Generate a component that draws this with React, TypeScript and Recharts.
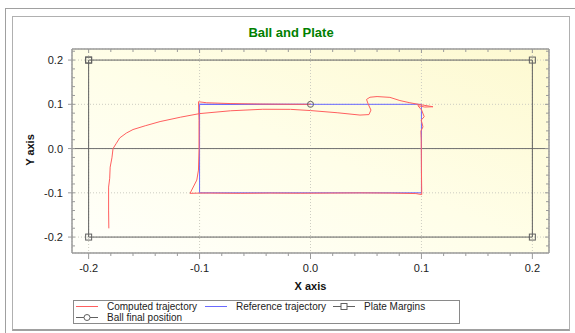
import { ScatterChart, Scatter, XAxis, YAxis, CartesianGrid, ReferenceLine } from 'recharts'

const FONT = '"Liberation Sans", Arial, sans-serif'
const AXIS = '#9a9a9a'
const RED = '#ff5f5f'
const BLUE = '#6a6aff'
const DARK = '#606060'

// x and y in metres
const computedTrajectory = [
  { x: -0.1818, y: -0.1803 }, { x: -0.182, y: -0.139 }, { x: -0.182, y: -0.087 },
  { x: -0.181, y: -0.067 }, { x: -0.1806, y: -0.042 }, { x: -0.179, y: -0.021 },
  { x: -0.178, y: 0.0 }, { x: -0.175, y: 0.012 }, { x: -0.172, y: 0.024 },
  { x: -0.166, y: 0.035 }, { x: -0.16, y: 0.043 }, { x: -0.149, y: 0.0515 },
  { x: -0.1356, y: 0.061 }, { x: -0.117, y: 0.071 }, { x: -0.1, y: 0.079 },
  { x: -0.072, y: 0.0854 }, { x: -0.043, y: 0.0888 }, { x: -0.018, y: 0.0886 },
  { x: 0.0, y: 0.0859 }, { x: 0.024, y: 0.081 }, { x: 0.0446, y: 0.0757 },
  { x: 0.0527, y: 0.0768 }, { x: 0.0545, y: 0.087 }, { x: 0.052, y: 0.1006 },
  { x: 0.0505, y: 0.111 }, { x: 0.0536, y: 0.116 }, { x: 0.06, y: 0.1175 },
  { x: 0.0716, y: 0.1157 }, { x: 0.0806, y: 0.1085 }, { x: 0.0896, y: 0.1035 },
  { x: 0.0986, y: 0.0994 }, { x: 0.1104, y: 0.0945 }, { x: 0.103, y: 0.0938 },
  { x: 0.0968, y: 0.097 }, { x: 0.1002, y: 0.087 }, { x: 0.1025, y: 0.0719 },
  { x: 0.0998, y: 0.0644 }, { x: 0.1014, y: 0.049 }, { x: 0.0995, y: 0.0395 },
  { x: 0.0998, y: 0.019 }, { x: 0.1, y: -0.0486 }, { x: 0.1003, y: -0.104 },
  { x: 0.095, y: -0.1017 }, { x: 0.072, y: -0.1006 }, { x: 0.045, y: -0.1002 },
  { x: 0.018, y: -0.1006 }, { x: -0.009, y: -0.101 }, { x: -0.036, y: -0.1006 },
  { x: -0.063, y: -0.1012 }, { x: -0.09, y: -0.1006 }, { x: -0.1, y: -0.1006 },
  { x: -0.1086, y: -0.1012 }, { x: -0.1025, y: -0.0712 }, { x: -0.101, y: -0.0486 },
  { x: -0.1005, y: -0.003 }, { x: -0.1005, y: 0.064 }, { x: -0.101, y: 0.1058 },
  { x: -0.0935, y: 0.1035 }, { x: -0.0725, y: 0.1017 }, { x: -0.0455, y: 0.1006 },
  { x: -0.0185, y: 0.1001 }, { x: 0.0, y: 0.1 },
]

const referenceTrajectory = [
  { x: -0.1, y: 0.1 }, { x: 0.1, y: 0.1 }, { x: 0.1, y: -0.1 },
  { x: -0.1, y: -0.1 }, { x: -0.1, y: 0.1 }, { x: 0.0, y: 0.1 },
]

const plateMargins = [
  { x: -0.2, y: 0.2 }, { x: 0.2, y: 0.2 }, { x: 0.2, y: -0.2 },
  { x: -0.2, y: -0.2 }, { x: -0.2, y: 0.2 },
]

const ballFinalPosition = [{ x: 0.0, y: 0.1 }]

const X_DOMAIN = [-0.215, 0.215]
const Y_DOMAIN = [-0.236, 0.225]
const X_TICKS = [-0.2, -0.18, -0.16, -0.14, -0.12, -0.1, -0.08, -0.06, -0.04, -0.02, 0, 0.02, 0.04, 0.06, 0.08, 0.1, 0.12, 0.14, 0.16, 0.18, 0.2]
const Y_TICKS = [-0.22, -0.2, -0.18, -0.16, -0.14, -0.12, -0.1, -0.08, -0.06, -0.04, -0.02, 0, 0.02, 0.04, 0.06, 0.08, 0.1, 0.12, 0.14, 0.16, 0.18, 0.2, 0.22]
const X_MAJOR = [-0.2, -0.1, 0, 0.1, 0.2]
const Y_MAJOR = [-0.2, -0.1, 0, 0.1, 0.2]

function isMajor(v: number) {
  return Math.abs(v * 10 - Math.round(v * 10)) < 1e-6
}

function fmt(v: number) {
  return (Math.abs(v) < 1e-9 ? 0 : v).toFixed(1)
}

function BottomTick({ x, y, payload }: any) {
  const major = isMajor(payload.value)
  return (
    <g>
      <line x1={x} y1={y} x2={x} y2={y + (major ? 6 : 3)} stroke={AXIS} />
      {major && (
        <text x={x} y={y + 19} textAnchor="middle" fontSize={11} fill="#222" fontFamily={FONT}>
          {fmt(payload.value)}
        </text>
      )}
    </g>
  )
}

function LeftTick({ x, y, payload }: any) {
  const major = isMajor(payload.value)
  return (
    <g>
      <line x1={major ? x - 4 : x} y1={y} x2={x + 3} y2={y} stroke={AXIS} />
      {major && (
        <text x={x - 9} y={y + 4} textAnchor="end" fontSize={11} fill="#222" fontFamily={FONT}>
          {fmt(payload.value)}
        </text>
      )}
    </g>
  )
}

function TopTick({ x, y, payload }: any) {
  const major = isMajor(payload.value)
  return <line x1={x} y1={y} x2={x} y2={y + (major ? 4 : 3)} stroke={AXIS} />
}

function RightTick({ x, y, payload }: any) {
  const major = isMajor(payload.value)
  return <line x1={x} y1={y} x2={x - (major ? 4 : 3)} y2={y} stroke={AXIS} />
}

const noDot = () => <g />

function squareDot({ cx, cy }: any) {
  return <rect x={cx - 3} y={cy - 3} width={6} height={6} fill="none" stroke={DARK} strokeWidth={1} />
}

function circleDot({ cx, cy }: any) {
  return <circle cx={cx} cy={cy} r={3} fill="none" stroke={DARK} strokeWidth={1} />
}

function LegendBox() {
  const item = (left: number, top: number, sym: any, label: string) => (
    <div style={{ position: 'absolute', left, top, display: 'flex', alignItems: 'center', height: 11 }}>
      <svg width={24} height={11} style={{ marginRight: 8 }}>{sym}</svg>
      <span>{label}</span>
    </div>
  )
  return (
    <div
      style={{
        position: 'absolute', left: 73, top: 300, width: 385, height: 22,
        border: '1px solid #8a8a8a', fontSize: 10, color: '#222', fontFamily: FONT,
      }}
    >
      {item(1, 0, <line x1={1} y1={5.5} x2={23} y2={5.5} stroke={RED} />, 'Computed trajectory')}
      {item(130, 0, <line x1={1} y1={5.5} x2={23} y2={5.5} stroke={BLUE} />, 'Reference trajectory')}
      {item(258, 0, (
        <g>
          <line x1={1} y1={5.5} x2={23} y2={5.5} stroke={DARK} />
          <rect x={9} y={2.5} width={6} height={6} fill="#fff" stroke={DARK} />
        </g>
      ), 'Plate Margins')}
      {item(1, 10.5, (
        <g>
          <line x1={1} y1={5.5} x2={23} y2={5.5} stroke={DARK} />
          <circle cx={12} cy={5.5} r={3} fill="#fff" stroke={DARK} />
        </g>
      ), 'Ball final position')}
    </div>
  )
}

export default function App() {
  return (
    <div
      style={{
        position: 'fixed', left: 0, top: 0, width: 575, height: 333,
        background: '#fff', overflow: 'hidden', fontFamily: FONT,
      }}
    >
      <div style={{ position: 'absolute', left: 5, top: 8, width: 700, height: 400, borderLeft: '1px solid #a0a0a0', borderTop: '1px solid #a0a0a0' }} />
      <div style={{ position: 'absolute', left: 12, top: 16, width: 556, height: 312, border: '1px solid #b0b0b0', borderBottom: '2px solid #a0a0a0' }} />
      <div style={{ position: 'absolute', left: 12, top: 25, width: 558, textAlign: 'center', color: '#008000', fontWeight: 700, fontSize: 13 }}>
        Ball and Plate
      </div>
      <div style={{ position: 'absolute', left: 72, top: 280, width: 477, textAlign: 'center', fontWeight: 700, fontSize: 11, color: '#111' }}>
        X axis
      </div>
      <div
        style={{
          position: 'absolute', left: 30, top: 151, width: 100, marginLeft: -50, marginTop: -7,
          textAlign: 'center', fontWeight: 700, fontSize: 11, color: '#111', transform: 'rotate(-90deg)',
        }}
      >
        Y axis
      </div>
      <div style={{ position: 'absolute', left: 0, top: 0 }}>
        <ScatterChart width={575} height={333} margin={{ top: 39, right: 16, bottom: 50, left: 32 }}>
          <defs>
            <linearGradient id="plotBg" x1="0" y1="1" x2="1" y2="0">
              <stop offset="0%" stopColor="#fffffb" />
              <stop offset="50%" stopColor="#fffee8" />
              <stop offset="100%" stopColor="#fdf9d0" />
            </linearGradient>
          </defs>
          <XAxis xAxisId="grid" type="number" dataKey="x" domain={X_DOMAIN} allowDataOverflow ticks={X_MAJOR} height={0} hide />
          <YAxis yAxisId="grid" type="number" dataKey="y" domain={Y_DOMAIN} allowDataOverflow ticks={Y_MAJOR} width={0} hide />
          <XAxis
            xAxisId="x" dataKey="x" type="number" domain={X_DOMAIN} allowDataOverflow
            ticks={X_TICKS} interval={0} tickSize={0} tickMargin={0} height={30}
            tick={<BottomTick />} axisLine={{ stroke: AXIS, strokeWidth: 1.5 }}
          />
          <XAxis
            xAxisId="top" orientation="top" dataKey="x" type="number" domain={X_DOMAIN} allowDataOverflow
            ticks={X_TICKS} interval={0} tickSize={0} tickMargin={0} height={10}
            tick={<TopTick />} axisLine={{ stroke: AXIS, strokeWidth: 1.5 }}
          />
          <YAxis
            yAxisId="y" dataKey="y" type="number" domain={Y_DOMAIN} allowDataOverflow
            ticks={Y_TICKS} interval={0} tickSize={0} tickMargin={0} width={40}
            tick={<LeftTick />} axisLine={{ stroke: AXIS, strokeWidth: 1.5 }}
          />
          <YAxis
            yAxisId="right" orientation="right" dataKey="y" type="number" domain={Y_DOMAIN} allowDataOverflow
            ticks={Y_TICKS} interval={0} tickSize={0} tickMargin={0} width={10}
            tick={<RightTick />} axisLine={{ stroke: AXIS, strokeWidth: 1.5 }}
          />
          <CartesianGrid
            xAxisId="grid" yAxisId="grid" fill="url(#plotBg)" fillOpacity={1}
            stroke="#cdcdc2" strokeDasharray="1 2"
          />
          <ReferenceLine xAxisId="x" yAxisId="y" y={0} stroke="#707070" strokeWidth={1} />
          <Scatter
            name="Plate Margins" xAxisId="x" yAxisId="y" data={plateMargins}
            line={{ stroke: DARK, strokeWidth: 1 }} lineType="joint" shape={squareDot}
            isAnimationActive={false}
          />
          <Scatter
            name="Reference trajectory" xAxisId="x" yAxisId="y" data={referenceTrajectory}
            line={{ stroke: BLUE, strokeWidth: 1 }} lineType="joint" shape={noDot}
            isAnimationActive={false}
          />
          <Scatter
            name="Computed trajectory" xAxisId="x" yAxisId="y" data={computedTrajectory}
            line={{ stroke: RED, strokeWidth: 1 }} lineType="joint" shape={noDot}
            isAnimationActive={false}
          />
          <Scatter
            name="Ball final position" xAxisId="top" yAxisId="right" data={ballFinalPosition}
            shape={circleDot} isAnimationActive={false}
          />
        </ScatterChart>
      </div>
      <LegendBox />
    </div>
  )
}
